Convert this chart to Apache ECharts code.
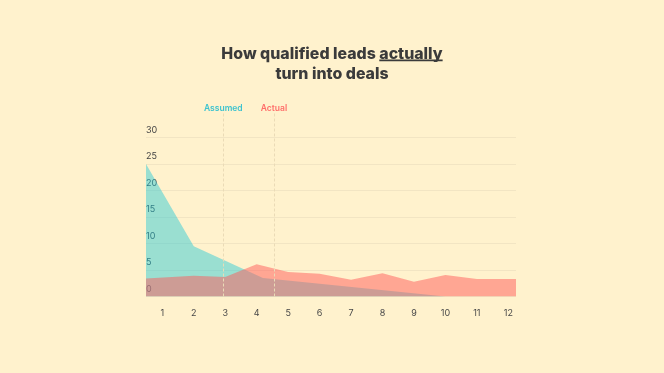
<!DOCTYPE html>
<html><head><meta charset="utf-8">
<script src="https://cdn.jsdelivr.net/npm/echarts@6/dist/echarts.min.js"></script>
<style>html,body{margin:0;padding:0;background:#FFF2CD;}#c{width:664px;height:373px;}</style>
</head><body><div id="c"></div>
<script>
// ---- data ----
const months = [1, 2, 3, 4, 5, 6, 7, 8, 9, 10, 11, 12];
const yTicks = [0, 5, 10, 15, 20, 25, 30];
const assumedX = [0.482, 2, 4.2, 10.0, 12.245];
const assumedY = [25, 9.5, 3.5, 0, 0];
const actualX = [0.482, 2, 3, 4, 5, 6, 7, 8, 9, 10, 11, 12.245];
const actualY = [3.4, 3.9, 3.7, 6.1, 4.6, 4.3, 3.15, 4.4, 2.8, 4.05, 3.3, 3.3];
const seriesNames = ['Assumed', 'Actual'];
const markerX = [2.94, 4.55];
const titlePre = 'How qualified leads ';
const titleUnder = 'actually';
const titleLine2 = 'turn into deals';

// ---- style ----
const FONT = 'Inter';
const TITLE_COLOR = '#3b3b3b';
const labelColors = ['#3EC3CF', '#FF6F6A'];
const TW = 800;

const cv = document.createElement('canvas').getContext('2d');
cv.font = TW + ' 16px ' + FONT;
const scale = 222 / cv.measureText(titlePre + titleUnder).width;
const tSize = Math.round(16 * scale * 10) / 10;
cv.font = TW + ' ' + tSize + 'px ' + FONT;
const wPre = cv.measureText(titlePre).width;
const wU = cv.measureText(titleUnder).width;
const left1 = 332 - (wPre + wU) / 2;

const chart = echarts.init(document.getElementById('c'), null, {renderer: 'canvas'});
chart.setOption({
  backgroundColor: '#FFF2CD',
  animation: false,
  title: {
    text: '{a|' + titlePre + '}{a|' + titleUnder + '}\n{a|' + titleLine2 + '}',
    left: 'center', top: 39,
    textStyle: {
      rich: { a: { fontFamily: FONT, fontWeight: TW, fontSize: tSize, color: TITLE_COLOR, lineHeight: 20 } }
    }
  },
  graphic: [{
    type: 'rect', silent: true,
    shape: { x: left1 + wPre, y: 59.6, width: wU, height: 1.6 },
    style: { fill: TITLE_COLOR }
  }],
  grid: { left: 146, right: 148, top: 112, bottom: 76.5 },
  xAxis: {
    type: 'value', min: 0.482, max: 12.245,
    axisLine: { show: false }, axisTick: { show: false }, splitLine: { show: false },
    axisLabel: { customValues: months, margin: 12, color: '#484848', fontFamily: FONT, fontSize: 9 }
  },
  yAxis: {
    type: 'value', min: 0, max: 34.8, interval: 5,
    axisLine: { show: false }, axisTick: { show: false },
    splitLine: { showMaxLine: false, lineStyle: { color: '#F2E5C3', width: 1 } },
    axisLabel: {
      inside: true, margin: 0, align: 'left', verticalAlign: 'bottom', padding: [0, 0, 3, 0],
      color: '#444444', fontFamily: FONT, fontSize: 9,
      formatter: v => (yTicks.indexOf(v) >= 0 ? String(v) : '')
    }
  },
  series: [
    {
      name: seriesNames[0], type: 'line', z: 2,
      data: assumedX.map((x, i) => [x, assumedY[i]]),
      showSymbol: false, symbol: 'none',
      lineStyle: { width: 0 },
      areaStyle: { color: '#20C8D8', opacity: 0.45 },
      markLine: {
        silent: true, symbol: 'none',
        lineStyle: { type: [3, 2], color: '#EADBB6', width: 1 },
        label: { position: 'end', distance: -1, fontFamily: FONT, fontSize: 8.5, fontWeight: 600 },
        data: markerX.map((x, i) => ({ xAxis: x, label: { formatter: seriesNames[i], color: labelColors[i] } }))
      }
    },
    {
      name: seriesNames[1], type: 'line', z: 3,
      data: actualX.map((x, i) => [x, actualY[i]]),
      showSymbol: false, symbol: 'none',
      lineStyle: { width: 0 },
      areaStyle: { color: '#FF5A5A', opacity: 0.5 }
    }
  ]
});
</script></body></html>
